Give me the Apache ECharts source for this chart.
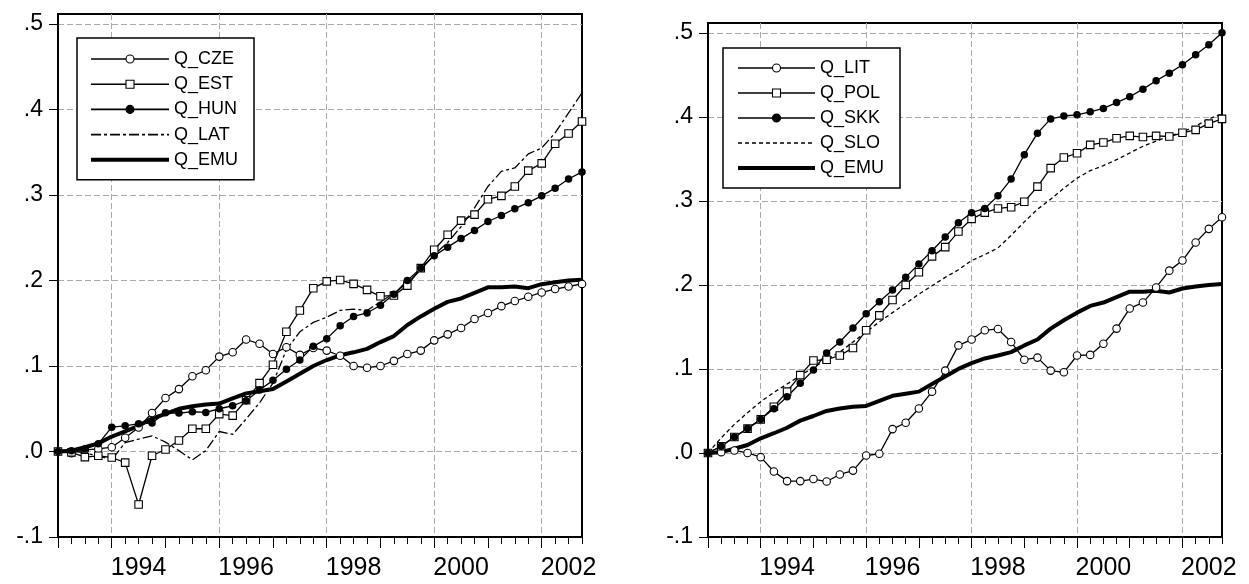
<!DOCTYPE html>
<html>
<head>
<meta charset="utf-8">
<script src="https://cdn.jsdelivr.net/npm/echarts@6/dist/echarts.min.js"></script>
<style>
html,body{margin:0;padding:0;background:#fff}
#chart{width:1249px;height:584px}
</style>
</head>
<body>
<div id="chart"></div>
<script>
// Quarterly observations, 1993Q1 - 2002Q4
const quarters = [
  '1993Q1','1993Q2','1993Q3','1993Q4','1994Q1','1994Q2','1994Q3','1994Q4',
  '1995Q1','1995Q2','1995Q3','1995Q4','1996Q1','1996Q2','1996Q3','1996Q4',
  '1997Q1','1997Q2','1997Q3','1997Q4','1998Q1','1998Q2','1998Q3','1998Q4',
  '1999Q1','1999Q2','1999Q3','1999Q4','2000Q1','2000Q2','2000Q3','2000Q4',
  '2001Q1','2001Q2','2001Q3','2001Q4','2002Q1','2002Q2','2002Q3','2002Q4'
];

// Year labels (centred on the year) and vertical grid years
const yearLabels = ['1994', '1996', '1998', '2000', '2002'];

// Y ticks and their labels
const yTicks = [-0.1, 0, 0.1, 0.2, 0.3, 0.4, 0.5];
const yTickLabels = ['-.1', '.0', '.1', '.2', '.3', '.4', '.5'];

// Left panel
const Q_CZE = [0, -0.002, 0.002, 0.003, 0.005, 0.016, 0.028, 0.045, 0.0625, 0.073,
  0.088, 0.095, 0.111, 0.116, 0.131, 0.126, 0.114, 0.122, 0.113, 0.121,
  0.118, 0.112, 0.100, 0.098, 0.100, 0.106, 0.114, 0.118, 0.130, 0.137,
  0.1445, 0.155, 0.162, 0.170, 0.176, 0.181, 0.186, 0.190, 0.193, 0.196];
const Q_EST = [0, -0.001, -0.0066, -0.005, -0.007, -0.013, -0.062, -0.005, 0.0023, 0.0129,
  0.0266, 0.0266, 0.0437, 0.042, 0.060, 0.080, 0.1015, 0.140, 0.165, 0.191,
  0.199, 0.2005, 0.196, 0.189, 0.1815, 0.1825, 0.194, 0.2145, 0.236, 0.2535,
  0.270, 0.277, 0.295, 0.299, 0.310, 0.3285, 0.337, 0.360, 0.372, 0.386];
const Q_HUN = [0, 0.001, 0.003, 0.009, 0.0285, 0.030, 0.0325, 0.0333, 0.0453, 0.045,
  0.0465, 0.0457, 0.050, 0.0535, 0.0594, 0.072, 0.0832, 0.0961, 0.107, 0.123,
  0.132, 0.147, 0.158, 0.162, 0.171, 0.184, 0.200, 0.2145, 0.229, 0.239,
  0.249, 0.2586, 0.269, 0.276, 0.284, 0.291, 0.299, 0.308, 0.3187, 0.327];
const Q_LAT = [0, 0.001, -0.002, -0.005, -0.010, 0.0105, 0.0145, 0.0183, 0.011, 0.001,
  -0.0098, 0.001, 0.0234, 0.020, 0.038, 0.057, 0.080, 0.119, 0.140, 0.151,
  0.157, 0.165, 0.1665, 0.165, 0.175, 0.185, 0.197, 0.2125, 0.230, 0.2445,
  0.263, 0.285, 0.310, 0.3277, 0.3316, 0.348, 0.355, 0.3727, 0.396, 0.4195];
const Q_EMU = [0, 0.001, 0.005, 0.0095, 0.0175, 0.0235, 0.030, 0.0385, 0.044, 0.050,
  0.053, 0.055, 0.056, 0.062, 0.068, 0.0705, 0.073, 0.082, 0.091, 0.100,
  0.107, 0.1125, 0.116, 0.120, 0.128, 0.135, 0.148, 0.158, 0.167, 0.175,
  0.179, 0.1855, 0.192, 0.192, 0.193, 0.191, 0.1957, 0.198, 0.200, 0.201];

// Right panel
const Q_LIT = [0, 0.001, 0.003, 0.0, -0.005, -0.022, -0.0335, -0.0335, -0.031, -0.034,
  -0.0256, -0.021, -0.003, -0.001, 0.0284, 0.036, 0.053, 0.073, 0.098, 0.128,
  0.135, 0.146, 0.1476, 0.132, 0.111, 0.1135, 0.098, 0.096, 0.116, 0.1167,
  0.130, 0.148, 0.172, 0.179, 0.197, 0.217, 0.229, 0.2504, 0.2667, 0.2806];
const Q_POL = [0, 0.008, 0.019, 0.029, 0.040, 0.055, 0.073, 0.0927, 0.110, 0.111,
  0.116, 0.125, 0.146, 0.1637, 0.182, 0.200, 0.215, 0.234, 0.245, 0.2635,
  0.2786, 0.286, 0.291, 0.2925, 0.299, 0.317, 0.339, 0.3516, 0.3567, 0.3667,
  0.3694, 0.3746, 0.3774, 0.376, 0.3774, 0.3766, 0.381, 0.3845, 0.392, 0.3976];
const Q_SKK = [0, 0.008, 0.019, 0.029, 0.040, 0.0525, 0.067, 0.083, 0.0986, 0.119,
  0.132, 0.1487, 0.1657, 0.180, 0.194, 0.209, 0.225, 0.2406, 0.257, 0.274,
  0.286, 0.291, 0.306, 0.326, 0.355, 0.3806, 0.3976, 0.401, 0.4024, 0.406,
  0.410, 0.417, 0.424, 0.433, 0.443, 0.452, 0.462, 0.474, 0.4857, 0.500];
const Q_SLO = [0, 0.018, 0.034, 0.048, 0.061, 0.072, 0.082, 0.092, 0.102, 0.111,
  0.120, 0.132, 0.144, 0.156, 0.167, 0.178, 0.189, 0.199, 0.209, 0.218,
  0.229, 0.236, 0.244, 0.259, 0.275, 0.290, 0.302, 0.315, 0.327, 0.336,
  0.342, 0.349, 0.357, 0.365, 0.371, 0.377, 0.382, 0.389, 0.3976, 0.4036];

const FONT = '"Liberation Sans", Arial, Helvetica, sans-serif';
const GRID_LINE = { color: '#a9a9a9', width: 1, type: [6, 3] };
const THIN = 1.3;

const labelAt = new Set(yearLabels.map(y => y + 'Q3'));
const gridAt = new Set(yearLabels.map(y => y + 'Q1'));

function xAxesFor(g) {
  return [
    {
      gridIndex: g, type: 'category', data: quarters, boundaryGap: false, position: 'bottom',
      axisLine: { show: true, onZero: false, lineStyle: { color: '#000', width: 2 } },
      axisTick: { show: true, interval: 0, length: 7, lineStyle: { color: '#000', width: 1 } },
      axisLabel: {
        interval: (i, v) => labelAt.has(v),
        formatter: v => v.slice(0, 4),
        margin: 19, fontSize: 25, color: '#000', fontFamily: FONT
      },
      splitLine: { show: true, interval: (i, v) => gridAt.has(v), lineStyle: GRID_LINE }
    },
    {
      // longer ticks at the start of each year
      gridIndex: g, type: 'category', data: quarters, boundaryGap: false, position: 'bottom',
      axisLine: { show: false, onZero: false },
      axisTick: { show: true, interval: (i, v) => v.endsWith('Q1'), length: 11, lineStyle: { color: '#000', width: 1 } },
      axisLabel: { show: false },
      splitLine: { show: false }
    }
  ];
}

function yAxisFor(g) {
  return {
    gridIndex: g, type: 'value', min: -0.1, max: 0.5117, interval: 0.1,
    axisLine: { show: true, onZero: false, lineStyle: { color: '#000', width: 2 } },
    axisTick: { show: true, inside: false, length: 9, customValues: yTicks, lineStyle: { color: '#000', width: 1 } },
    axisLabel: {
      customValues: yTicks,
      formatter: v => {
        const k = yTicks.findIndex(t => Math.abs(t - v) < 1e-6);
        return k >= 0 ? yTickLabels[k] : '';
      },
      margin: 15, fontSize: 23, color: '#000', fontFamily: FONT
    },
    splitLine: { show: true, lineStyle: GRID_LINE }
  };
}

const STYLES = {
  openCircle: { symbol: 'circle', symbolSize: 7.5, itemStyle: { color: '#fff', borderColor: '#000', borderWidth: 1.1 }, lineStyle: { color: '#000', width: THIN } },
  openSquare: { symbol: 'rect', symbolSize: 7.5, itemStyle: { color: '#fff', borderColor: '#000', borderWidth: 1.1 }, lineStyle: { color: '#000', width: THIN } },
  dot: { symbol: 'circle', symbolSize: 7.5, itemStyle: { color: '#000', borderColor: '#000', borderWidth: 0 }, lineStyle: { color: '#000', width: THIN } },
  dashDot: { symbol: 'none', itemStyle: { color: '#000' }, lineStyle: { color: '#000', width: THIN, type: [10, 3, 3, 3] } },
  dash: { symbol: 'none', itemStyle: { color: '#000' }, lineStyle: { color: '#000', width: THIN, type: [4, 3] } },
  thick: { symbol: 'none', itemStyle: { color: '#000' }, lineStyle: { color: '#000', width: 4 } }
};

function line(name, data, g, style) {
  const s = STYLES[style];
  return {
    type: 'line', name, data, xAxisIndex: g * 2, yAxisIndex: g,
    symbol: s.symbol, symbolSize: s.symbolSize || 0, showSymbol: s.symbol !== 'none',
    itemStyle: s.itemStyle, lineStyle: s.lineStyle,
    silent: true, animation: false, emphasis: { disabled: true }
  };
}

function legendFor(items, pos) {
  return {
    orient: 'vertical', left: pos.left, top: pos.top,
    padding: pos.padding,
    backgroundColor: '#fff', borderColor: '#000', borderWidth: 1.5,
    itemWidth: pos.itemWidth, itemHeight: 10, itemGap: pos.itemGap,
    selectedMode: false,
    itemStyle: { borderWidth: 1.1 },
    textStyle: { fontSize: 18, color: '#000', fontFamily: FONT, lineHeight: 18 },
    data: items.map(([name, style]) => {
      const s = STYLES[style];
      const item = { name, lineStyle: { width: Math.max(1.6, s.lineStyle.width), type: s.lineStyle.type || 'solid', color: '#000' } };
      if (s.symbol === 'none') item.itemStyle = { opacity: 0 };
      return item;
    })
  };
}

const leftItems = [['Q_CZE', 'openCircle'], ['Q_EST', 'openSquare'], ['Q_HUN', 'dot'], ['Q_LAT', 'dashDot'], ['Q_EMU', 'thick']];
const rightItems = [['Q_LIT', 'openCircle'], ['Q_POL', 'openSquare'], ['Q_SKK', 'dot'], ['Q_SLO', 'dash'], ['Q_EMU', 'thick']];

const chart = echarts.init(document.getElementById('chart'), null, { renderer: 'canvas' });
chart.setOption({
  animation: false,
  backgroundColor: '#fff',
  grid: [
    { left: 58, top: 14, width: 524, height: 523, show: true, borderColor: '#000', borderWidth: 2, backgroundColor: 'transparent', containLabel: false },
    { left: 708, top: 23, width: 514, height: 514, show: true, borderColor: '#000', borderWidth: 2, backgroundColor: 'transparent', containLabel: false }
  ],
  xAxis: [...xAxesFor(0), ...xAxesFor(1)],
  yAxis: [yAxisFor(0), yAxisFor(1)],
  legend: [
    legendFor(leftItems, { left: 77, top: 38, padding: [12, 16, 11, 12], itemWidth: 78, itemGap: 7.2 }),
    legendFor(rightItems, { left: 723, top: 48, padding: [11, 16, 11, 13], itemWidth: 77, itemGap: 7 })
  ],
  series: [
    line('Q_CZE', Q_CZE, 0, 'openCircle'),
    line('Q_EST', Q_EST, 0, 'openSquare'),
    line('Q_HUN', Q_HUN, 0, 'dot'),
    line('Q_LAT', Q_LAT, 0, 'dashDot'),
    line('Q_EMU', Q_EMU, 0, 'thick'),
    line('Q_LIT', Q_LIT, 1, 'openCircle'),
    line('Q_POL', Q_POL, 1, 'openSquare'),
    line('Q_SKK', Q_SKK, 1, 'dot'),
    line('Q_SLO', Q_SLO, 1, 'dash'),
    line('Q_EMU', Q_EMU, 1, 'thick')
  ]
});
</script>
</body>
</html>
